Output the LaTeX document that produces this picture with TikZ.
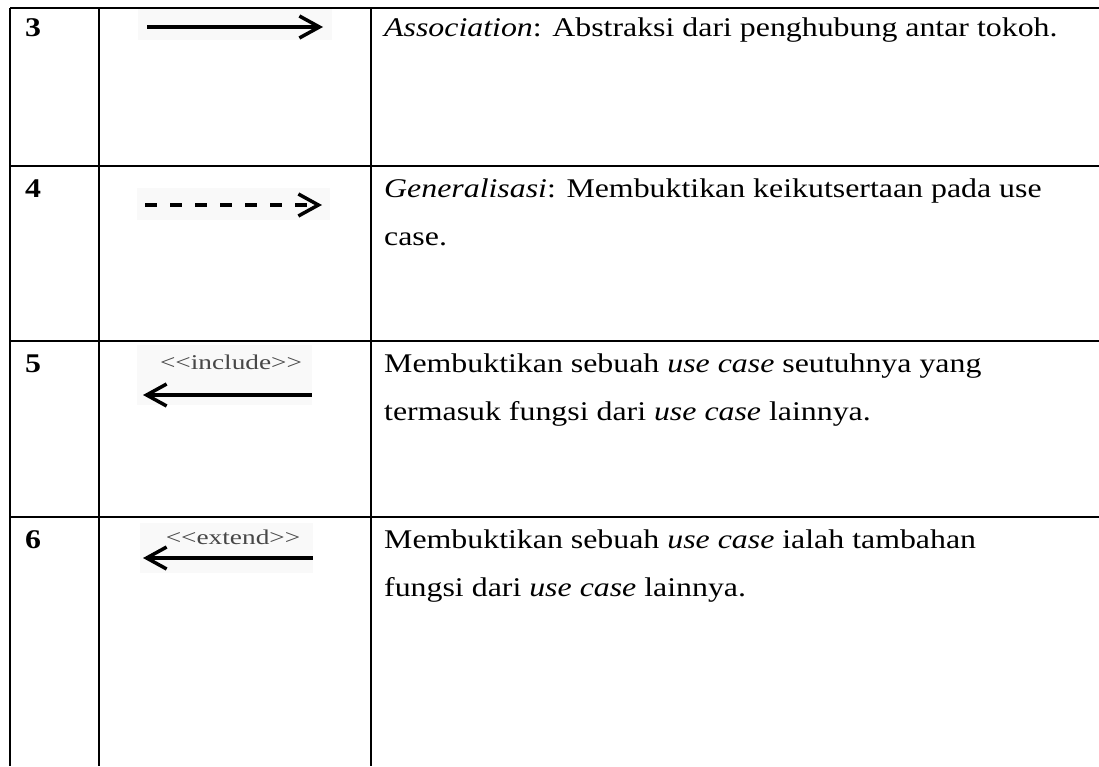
\documentclass[tikz,border=0pt]{standalone}
\usepackage{fontspec}
\setmainfont{Liberation Serif}[FakeStretch=1.18]
\newfontfamily\stereofont{Liberation Serif}[FakeStretch=1.3]
\usetikzlibrary{arrows.meta,positioning}
\newcommand{\txtsize}{\fontsize{27}{32}\selectfont}
\newcommand{\linegap}{48}
\tikzset{
    gridsty/.style={line width=2.6pt,black},
    numsty/.style={anchor=base west,inner sep=0pt,font=\txtsize\bfseries},
    descsty/.style={anchor=base west,inner sep=0pt,font=\txtsize},
    stereosty/.style={anchor=base,inner sep=0pt,text=black!72,font=\stereofont\fontsize{21}{24}\selectfont},
    imgsty/.style={fill=gray!5,draw=none},
    barbsty/.style={line width=3.5pt},
    assocsty/.style={barbsty,->},
    gensty/.style={barbsty,dash pattern=on 12pt off 13pt,->},
    depsty/.style={barbsty,<-},
}

\begin{document}
\begin{tikzpicture}[x=1pt,y=-1pt,>={Straight Barb[length=20pt,width=22pt]}]
  \useasboundingbox (0,0) rectangle (1099,766);

  % grid of the table
  \foreach \yy in {8,166,341,517}
    \draw[gridsty] (10,\yy) -- (1099,\yy);
  \foreach \xx in {10,99,371}
    \draw[gridsty] (\xx,8) -- (\xx,766);

  % pasted pictures
  \fill[imgsty] (138,9) rectangle (332,40);
  \fill[imgsty] (137,188) rectangle (330,220);
  \fill[imgsty] (137,345) rectangle (312,405);
  \fill[imgsty] (140,523) rectangle (313,573);

  % numbers
  \node[numsty] (n3) at (25,36) {3};
  \node[numsty] (n4) at (25,197) {4};
  \node[numsty] (n5) at (25,372) {5};
  \node[numsty] (n6) at (25,548) {6};

  % symbols
  \coordinate (a3s) at (147,27);
  \coordinate (a3e) at (323,27);
  \draw[assocsty] (a3s) -- (a3e);

  \coordinate (a4s) at (145,205);
  \coordinate (a4e) at (322,205);
  \draw[gensty] (a4s) -- (a4e);

  \node[stereosty] (inc) at (231,369) {<<include>>};
  \coordinate (a5s) at (143,395);
  \coordinate (a5e) at (312,395);
  \draw[depsty] (a5s) -- (a5e);

  \node[stereosty] (ext) at (233,544) {<<extend>>};
  \coordinate (a6s) at (143,558);
  \coordinate (a6e) at (313,558);
  \draw[depsty] (a6s) -- (a6e);

  % descriptions
  \node[descsty] (d3) at (384,36) {\textit{Association}: Abstraksi dari penghubung antar tokoh.};

  \node[descsty] (d4a) at (384,197) {\textit{Generalisasi}: Membuktikan keikutsertaan pada use};
  \node[descsty] (d4b) at (384,197+\linegap) {case.};

  \node[descsty] (d5a) at (384,372) {Membuktikan sebuah \textit{use case} seutuhnya yang};
  \node[descsty] (d5b) at (384,372+\linegap) {termasuk fungsi dari \textit{use case} lainnya.};

  \node[descsty] (d6a) at (384,548) {Membuktikan sebuah \textit{use case} ialah tambahan};
  \node[descsty] (d6b) at (384,548+\linegap) {fungsi dari \textit{use case} lainnya.};
\end{tikzpicture}
\end{document}
